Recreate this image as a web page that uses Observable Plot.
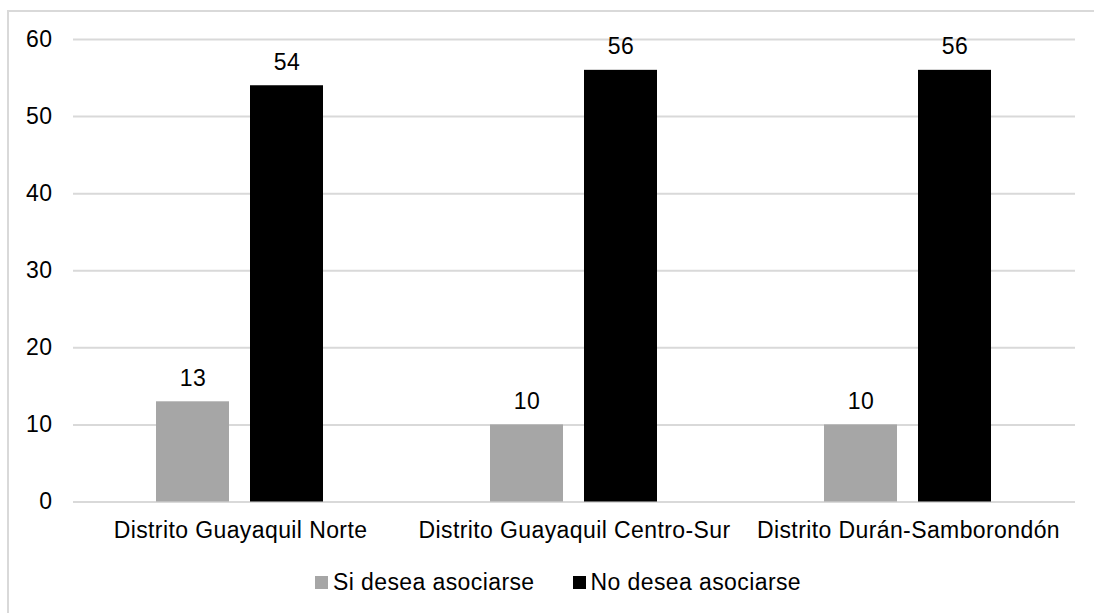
<!DOCTYPE html>
<html>
<head>
<meta charset="utf-8">
<script src="https://cdn.jsdelivr.net/npm/d3@7"></script>
<script src="https://cdn.jsdelivr.net/npm/@observablehq/plot@0.6"></script>
<style>
  html, body { margin: 0; padding: 0; background: #fff; }
  #wrap { position: relative; width: 1094px; height: 613px; overflow: hidden; font-family: "Liberation Sans", Arial, sans-serif; }
  #frame { position: absolute; left: 7px; top: 10px; width: 1100px; height: 620px; border: 2px solid #d9d9d9; box-sizing: border-box; }
  #chart { position: absolute; left: 0; top: 0; }
  #legend { position: absolute; left: 315px; top: 569px; display: flex; gap: 38px; font-size: 23px; letter-spacing: 0.4px; color: #000; }
  .item { display: flex; align-items: center; gap: 5px; }
  .sw { width: 13px; height: 13px; display: inline-block; }
</style>
</head>
<body>
<div id="wrap">
  <div id="frame"></div>
  <div id="chart"></div>
  <div id="legend"></div>
</div>
<script>
const districts = ["Distrito Guayaquil Norte", "Distrito Guayaquil Centro-Sur", "Distrito Durán-Samborondón"];
const series = ["Si desea asociarse", "No desea asociarse"];
const siValues = [13, 10, 10];
const noValues = [54, 56, 56];
const seriesColors = ["#a6a6a6", "#000000"];
const yTicks = [0, 10, 20, 30, 40, 50, 60];

const data = districts.flatMap((d, i) => [
  {district: d, series: series[0], value: siValues[i]},
  {district: d, series: series[1], value: noValues[i]}
]);

const chart = Plot.plot({
  width: 1094,
  height: 560,
  marginLeft: 73,
  marginRight: 19,
  marginTop: 39,
  marginBottom: 58.5,
  style: {fontFamily: "'Liberation Sans', Arial, sans-serif", fontSize: "23px", letterSpacing: "0.4px", color: "#000", background: "transparent"},
  fx: {domain: districts, padding: 0, label: null, tickSize: 0, tickPadding: 20},
  x: {domain: series, paddingInner: 0.221, paddingOuter: 0.869, axis: null},
  y: {domain: [0, 60], ticks: yTicks, tickSize: 0, tickPadding: 21, label: null},
  color: {domain: series, range: seriesColors},
  marks: [
    Plot.ruleY(yTicks, {stroke: "#d9d9d9", strokeWidth: 2}),
    Plot.barY(data, {fx: "district", x: "series", y: "value", fill: "series"}),
    Plot.text(data, {fx: "district", x: "series", y: "value", text: d => String(d.value), dy: -16, lineAnchor: "bottom", fill: "#000"})
  ]
});
document.getElementById("chart").appendChild(chart);

const legend = d3.select("#legend");
series.forEach((s, i) => {
  const item = legend.append("div").attr("class", "item");
  item.append("span").attr("class", "sw").style("background", seriesColors[i]);
  item.append("span").text(s);
});
</script>
</body>
</html>
